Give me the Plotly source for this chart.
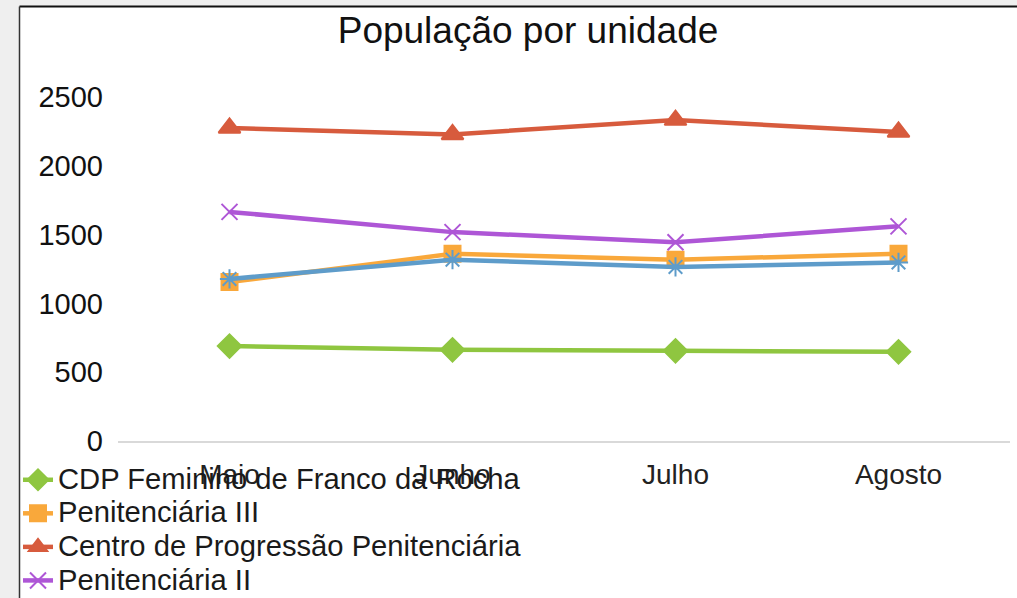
import plotly.graph_objects as go

# ---- data ----
months = ["Maio", "Junho", "Julho", "Agosto"]
cdp_feminino = [690, 663, 655, 648]
penitenciaria_iii = [1155, 1360, 1318, 1360]
centro_progressao = [2275, 2228, 2332, 2246]
penitenciaria_ii = [1665, 1518, 1445, 1560]
serie_azul = [1178, 1318, 1265, 1298]

title_text = "População por unidade"
y_ticks = [0, 500, 1000, 1500, 2000, 2500]

# ---- layout constants (pixels) ----
W, H = 1017, 598
ML, MR, MT, MB = 118, 7, 97, 157
PW, PH = W - ML - MR, H - MT - MB

def px_x(p):
    return (p - ML) / PW

def px_y(p):
    return (H - MB - p) / PH

FONT = "Liberation Sans, Arial, sans-serif"
LEG_TEXT = "<span style='font-size:29.2px'>{}</span>"

series = [
    ("CDP Feminino de Franco da Rocha", cdp_feminino, "#8fc640", "diamond", 18, True),
    ("Penitenciária III", penitenciaria_iii, "#f9a83b", "square", 16, True),
    ("Centro de Progressão Penitenciária", centro_progressao, "#d75b3d", "triangle-up", 19, True),
    ("Penitenciária II", penitenciaria_ii, "#ae56d6", "x-thin-open", 16, True),
    ("Série 5", serie_azul, "#5e9cca", "asterisk-open", 16, False),
]

fig = go.Figure()
order = [0, 1, 4, 2, 3]
for i in order:
    name, vals, color, sym, size, show = series[i]
    fig.add_trace(go.Scatter(
        x=months, y=vals, name=LEG_TEXT.format(name), mode="lines+markers",
        line=dict(color=color, width=4.5),
        marker=dict(symbol=sym, size=size, color=color,
                    line=dict(color=color, width=2)),
        showlegend=show,
        legendrank=i + 1,
        hoverinfo="skip",
    ))

shapes = [
    dict(type="rect", xref="paper", yref="paper", layer="below",
         x0=px_x(20), x1=px_x(W + 5), y0=px_y(H + 5), y1=px_y(7),
         fillcolor="white", line=dict(width=0)),
    dict(type="line", xref="paper", yref="paper", layer="above",
         x0=px_x(19.5), x1=px_x(W + 5), y0=px_y(6.5), y1=px_y(6.5),
         line=dict(color="#111111", width=2)),
    dict(type="line", xref="paper", yref="paper", layer="above",
         x0=px_x(19.5), x1=px_x(19.5), y0=px_y(6.5), y1=px_y(H + 5),
         line=dict(color="#333333", width=1.5)),
]

fig.update_layout(
    width=W, height=H,
    margin=dict(l=ML, r=MR, t=MT, b=MB, autoexpand=False),
    paper_bgcolor="#efefef",
    plot_bgcolor="rgba(0,0,0,0)",
    font=dict(family=FONT, color="#1a1a1a"),
    title=dict(text=title_text, x=px_x(528), xref="paper", xanchor="center",
               y=1 - 30 / H, yanchor="middle",
               font=dict(size=37, color="#111111", family=FONT)),
    xaxis=dict(
        range=[-0.5, 3.5],
        showgrid=False, zeroline=False, showline=True,
        linecolor="#d9d9d9", linewidth=2,
        tickfont=dict(size=28, color="#222222"),
        ticklabelstandoff=7,
    ),
    yaxis=dict(
        range=[0, 2500], tickvals=y_ticks, showgrid=False, zeroline=False,
        showline=False, tickfont=dict(size=29, color="#111111"),
        ticklabelstandoff=14,
    ),
    legend=dict(
        xref="container", yref="container",
        x=18 / W, y=1 - 458 / H, xanchor="left", yanchor="top",
        bgcolor="rgba(0,0,0,0)", borderwidth=0,
        font=dict(size=23.5, color="#1a1a1a", family=FONT),
        itemwidth=30, tracegroupgap=0,
    ),
    shapes=shapes,
)

fig.write_html("out.html", config={"displayModeBar": False},
               post_script="document.body.style.margin='0';")
